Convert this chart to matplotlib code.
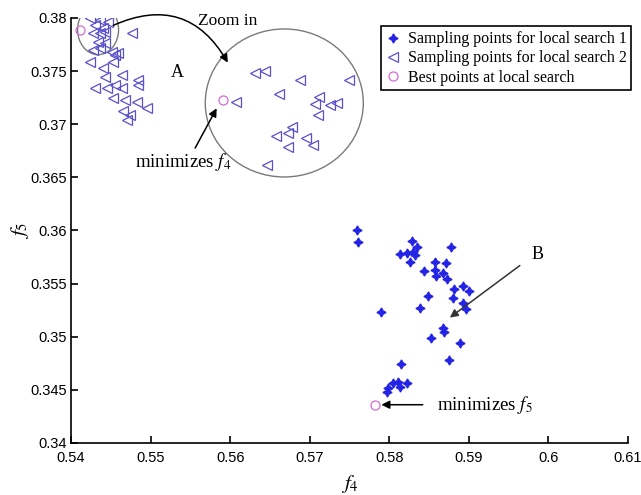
import numpy as np
import matplotlib
matplotlib.use("Agg")
import matplotlib.pyplot as plt
from matplotlib.patches import Ellipse

plt.rcParams['mathtext.fontset'] = 'stix'

# local search 1 (cluster B)
s1_f4 = [0.5759, 0.5761, 0.5829, 0.5813, 0.5822, 0.5830, 0.5835, 0.5832, 0.5826,
         0.5878, 0.5857, 0.5871, 0.5857, 0.5844, 0.5868, 0.5859, 0.5873, 0.5893,
         0.5900, 0.5881, 0.5849, 0.5880, 0.5893, 0.5896, 0.5839, 0.5790, 0.5868,
         0.5869, 0.5852, 0.5889, 0.5875, 0.5815, 0.5811, 0.5805, 0.5798, 0.5822,
         0.5813, 0.5797]
s1_f3 = [0.3600, 0.3589, 0.3590, 0.3578, 0.3579, 0.3580, 0.3584, 0.3577, 0.3570,
         0.3584, 0.3570, 0.3569, 0.3563, 0.3562, 0.3560, 0.3557, 0.3554, 0.3548,
         0.3543, 0.3545, 0.3538, 0.3536, 0.3532, 0.3526, 0.3527, 0.3523, 0.3508,
         0.3504, 0.3499, 0.3494, 0.3478, 0.3474, 0.3457, 0.3456, 0.3452, 0.3456,
         0.3453, 0.3448]

# local search 2 (cluster A)
s2_f4 = [0.5424, 0.5436, 0.5447, 0.5430, 0.5440, 0.5428, 0.5436, 0.5443, 0.5434,
         0.5443, 0.5452, 0.5455, 0.5428, 0.5436, 0.5477, 0.5424, 0.5459, 0.5453,
         0.5440, 0.5443, 0.5464, 0.5484, 0.5484, 0.5430, 0.5445, 0.5455, 0.5464,
         0.5453, 0.5468, 0.5483, 0.5496, 0.5465, 0.5474, 0.5470]
s2_f3 = [0.3800, 0.3798, 0.3796, 0.3793, 0.3791, 0.3786, 0.3786, 0.3787, 0.3777,
         0.3776, 0.3768, 0.3765, 0.3770, 0.3772, 0.3786, 0.3759, 0.3767, 0.3759,
         0.3753, 0.3744, 0.3746, 0.3742, 0.3737, 0.3734, 0.3734, 0.3737, 0.3734,
         0.3725, 0.3723, 0.3721, 0.3715, 0.3712, 0.3709, 0.3704]

# magnified view of the top-left corner (drawn inside the big circle)
zoom_f4 = [0.5631, 0.5644, 0.5688, 0.5749, 0.5661, 0.5607, 0.5712, 0.5707, 0.5725,
           0.5734, 0.5710, 0.5678, 0.5673, 0.5658, 0.5695, 0.5704, 0.5673, 0.5646]
zoom_f3 = [0.3748, 0.3750, 0.3742, 0.3742, 0.3728, 0.3721, 0.3726, 0.3719, 0.3718,
           0.3720, 0.3709, 0.3697, 0.3692, 0.3689, 0.3687, 0.3680, 0.3679, 0.3662]

best_f4 = [0.5411, 0.5782]
best_f3 = [0.3789, 0.3436]
zoom_best = (0.5591, 0.3723)

tri_col = '#5a50cc'
star_col = '#2424e6'
best_col = '#d46ad4'
star = (4, 1, 0)

fig = plt.figure(figsize=(6.41, 4.95), dpi=100)
ax = fig.add_axes([0.1108, 0.1051, 0.8690, 0.8586])

ax.plot(s1_f4, s1_f3, ls='none', marker=star, ms=6.5, color=star_col, mec=star_col,
        label='Sampling points for local search 1')
ax.plot(s2_f4, s2_f3, ls='none', marker='<', ms=7, mfc='none', mec=tri_col, mew=0.9,
        label='Sampling points for local search 2')
ax.plot(best_f4, best_f3, ls='none', marker='o', ms=6.5, mfc='none', mec=best_col, mew=0.9,
        label='Best points at local search')
ax.plot(zoom_f4, zoom_f3, ls='none', marker='<', ms=7, mfc='none', mec=tri_col, mew=0.9)
ax.plot(*zoom_best, ls='none', marker='o', ms=6.5, mfc='none', mec=best_col, mew=0.9)

ax.add_patch(Ellipse((0.5434, 0.3789), 0.00515, 0.00471, fill=False, ec='#7a7a7a', lw=1))
ax.add_patch(Ellipse((0.5668, 0.3720), 0.01986, 0.01393, fill=False, ec='#7a7a7a', lw=1))

ap = dict(arrowstyle='-|>', color='k', lw=1.1, mutation_scale=12, shrinkA=0, shrinkB=0)
serif = 'Liberation Serif'
ax.annotate('', xy=(0.5597, 0.3758), xytext=(0.5453, 0.3793),
            arrowprops=dict(ap, connectionstyle='arc3,rad=-0.45'))
ax.text(0.5560, 0.37972, 'Zoom in', family=serif, fontsize=12.5, va='center')
ax.text(0.5533, 0.3749, 'A', family=serif, fontsize=13, ha='center', va='center')
ax.text(0.5986, 0.3577, 'B', family=serif, fontsize=13, ha='center', va='center')

ax.annotate('', xy=(0.5583, 0.3715), xytext=(0.5556, 0.36776), arrowprops=ap)
ax.text(0.55408, 0.3664, 'minimizes $f_4$', family=serif, fontsize=13.5, ha='center', va='center')
ax.annotate('', xy=(0.5790, 0.3436), xytext=(0.5842, 0.3436), arrowprops=ap)
ax.text(0.5860, 0.3436, 'minimizes $f_5$', family=serif, fontsize=13.5, ha='left', va='center')
ax.annotate('', xy=(0.5876, 0.3518), xytext=(0.5964, 0.3567), arrowprops=dict(ap, color='#333333'))

ax.set_xlim(0.54, 0.61)
ax.set_ylim(0.34, 0.38)
ax.set_xticks(np.arange(0.54, 0.6101, 0.01))
ax.set_xticklabels(['0.54', '0.55', '0.56', '0.57', '0.58', '0.59', '0.6', '0.61'])
ax.set_yticks(np.arange(0.34, 0.3801, 0.005))
ax.set_yticklabels(['0.34', '0.345', '0.35', '0.355', '0.36', '0.365', '0.37', '0.375', '0.38'])
ax.tick_params(direction='in', length=5, width=1.2, labelsize=10.5, pad=3)
ax.tick_params(axis='x', pad=6)
for lab in ax.get_xticklabels() + ax.get_yticklabels():
    lab.set_family('Liberation Sans')
for sp in ['top', 'right']:
    ax.spines[sp].set_visible(False)
for sp in ['left', 'bottom']:
    ax.spines[sp].set_linewidth(1.2)

ax.set_xlabel('$f_4$', fontsize=15)
ax.set_ylabel('$f_5$', fontsize=15)
ax.xaxis.set_label_coords(0.5, -0.07)
ax.yaxis.set_label_coords(-0.072, 0.5)

leg = ax.legend(loc='upper right', bbox_to_anchor=(1.006, 0.98), prop={'family': serif, 'size': 11.5},
                fancybox=False, framealpha=1, edgecolor='k', handletextpad=0.4,
                borderpad=0.3, labelspacing=0.2, handlelength=1.0, borderaxespad=0)
leg.get_frame().set_linewidth(1.2)

fig.savefig('out.png', dpi=100)
